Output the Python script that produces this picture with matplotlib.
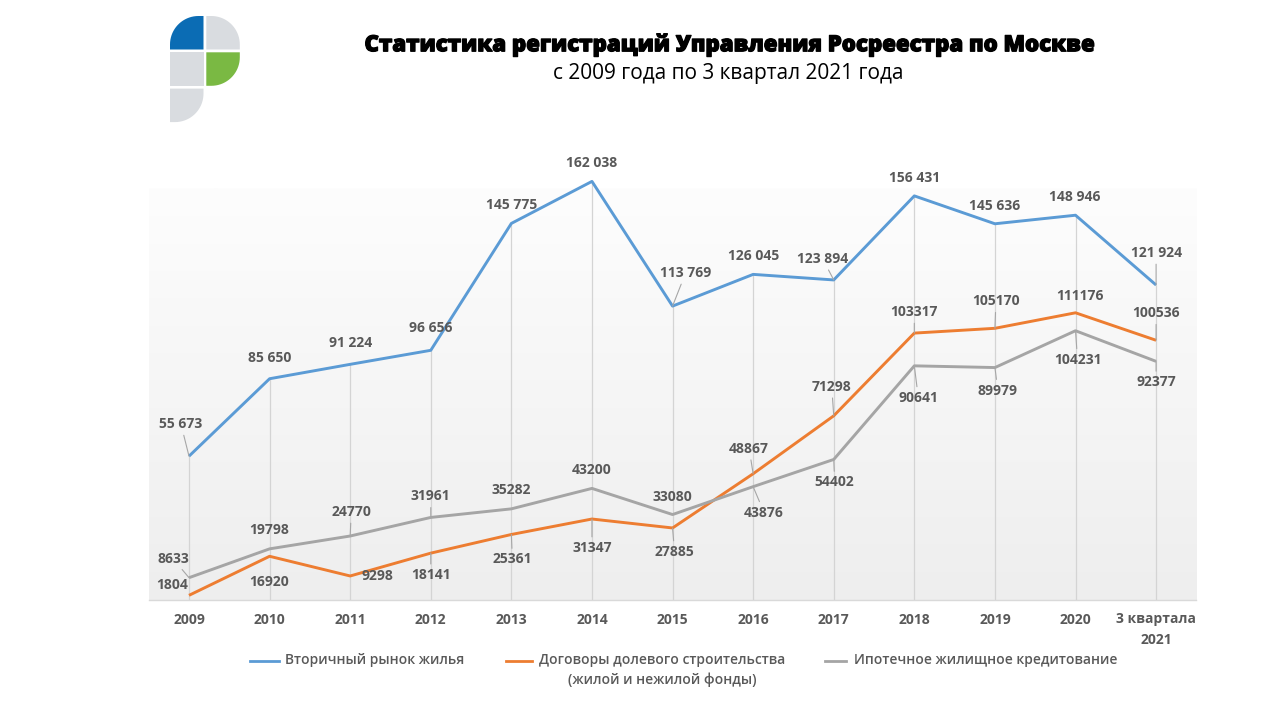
import numpy as np
import matplotlib
matplotlib.use("Agg")
import matplotlib.pyplot as plt
import matplotlib.patheffects as pe
from matplotlib.lines import Line2D
from matplotlib.patches import Polygon

# ---------------- data ----------------
categories = ["2009", "2010", "2011", "2012", "2013", "2014", "2015", "2016",
              "2017", "2018", "2019", "2020", "3 квартала\n2021"]
secondary = [55673, 85650, 91224, 96656, 145775, 162038, 113769, 126045,
             123894, 156431, 145636, 148946, 121924]
shared = [1804, 16920, 9298, 18141, 25361, 31347, 27885, 48867,
          71298, 103317, 105170, 111176, 100536]
mortgage = [8633, 19798, 24770, 31961, 35282, 43200, 33080, 43876,
            54402, 90641, 89979, 104231, 92377]
series_names = ["Вторичный рынок жилья",
                "Договоры долевого строительства\n(жилой и нежилой фонды)",
                "Ипотечное жилищное кредитование"]
title = "Статистика регистраций Управления Росреестра по Москве"
subtitle = "с 2009 года по 3 квартал 2021 года"

# ---------------- style / layout ----------------
colors = ["#5b9bd5", "#ed7d31", "#a5a5a5"]
label_color = "#595959"
# label offsets in pixels (dx, dy) and leader-line flags
off_sec = [(-8, 32), (0, 21), (0, 21), (0, 22), (0, 18), (0, 18), (13, 33),
           (0, 18), (-11, 21), (0, 18), (0, 18), (-1, 18), (0, 32)]
lead_sec = [1, 0, 0, 0, 0, 0, 1, 0, 1, 0, 0, 0, 1]
off_sh = [(-17, 10), (0, -26), (27, 0), (0, -22), (1, -25), (0, -29), (2, -24),
          (-4, 25), (-2, 29), (0, 21), (1, 27), (4, 17), (0, 27)]
lead_sh = [0, 0, 0, 1, 1, 1, 1, 1, 1, 1, 1, 0, 1]
off_mo = [(-16, 19), (0, 19), (1, 24), (0, 21), (0, 19), (0, 18), (0, 18),
          (11, -26), (1, -23), (4, -32), (3, -23), (2, -29), (0, -21)]
lead_mo = [1, 0, 1, 1, 0, 0, 0, 1, 1, 1, 1, 1, 1]

W, H = 1280, 720
fig = plt.figure(figsize=(W / 100, H / 100), dpi=100)
fig.patch.set_facecolor("white")

FONT = ["Open Sans", "DejaVu Sans"]
plt.rcParams["font.family"] = FONT

# axes placement in pixels
ax_l, ax_r, ax_b, ax_t = 148.7, 1196.4, 600, 135
ax = fig.add_axes([ax_l / W, 1 - ax_b / H, (ax_r - ax_l) / W, (ax_b - ax_t) / H])
n = len(categories)
x = np.arange(n)
ax.set_xlim(-0.5, n - 0.5)
ax.set_ylim(0, 180000)

# gradient background of plot area
grad = np.linspace(0, 1, 256).reshape(-1, 1)
top_c = np.array([0xfd, 0xfd, 0xfd]) / 255
bot_c = np.array([0xee, 0xee, 0xee]) / 255
img = top_c * (1 - grad[..., None]) + bot_c * grad[..., None]
img = img.reshape(256, 1, 3)
ax.imshow(img, extent=(-0.5, n - 0.5, 0, 159400), aspect="auto", zorder=0,
          origin="upper")

# drop lines
ax.vlines(x, 0, secondary, color="#d4d4d4", lw=0.9, zorder=1)

for vals, c in zip([secondary, shared, mortgage], colors):
    ax.plot(x, vals, color=c, lw=2.1, zorder=3, solid_joinstyle="round",
            solid_capstyle="butt")

def fmt_space(v):
    return f"{v:,}".replace(",", " ")

def add_labels(vals, offs, leads, fmt):
    for i, v in enumerate(vals):
        kw = {}
        if leads[i]:
            kw["arrowprops"] = dict(arrowstyle="-", color="#a6a6a6", lw=0.8,
                                    shrinkA=1, shrinkB=0)
        ax.annotate(fmt(v), xy=(i, v), xytext=offs[i], textcoords="offset pixels",
                    ha="center", va="center", fontsize=10, fontweight="bold",
                    color=label_color, zorder=5, **kw)

add_labels(secondary, off_sec, lead_sec, fmt_space)
add_labels(shared, off_sh, lead_sh, str)
add_labels(mortgage, off_mo, lead_mo, str)

for s in ["top", "left", "right"]:
    ax.spines[s].set_visible(False)
ax.spines["bottom"].set_color("#d9d9d9")
ax.spines["bottom"].set_linewidth(1)
ax.set_yticks([])
ax.set_xticks(x)
ax.set_xticklabels(categories, fontsize=10, fontweight="bold", color=label_color,
                   linespacing=1.55)
ax.tick_params(axis="x", length=0, pad=9)

# title
fig.text(730 / W, 1 - 45 / H, title, ha="center", va="center", fontsize=16,
         fontweight="heavy", color="black",
         path_effects=[pe.withStroke(linewidth=0.9, foreground="black")])
fig.text(728 / W, 1 - 73 / H, subtitle, ha="center", va="center", fontsize=15,
         color="black")

# legend (manual)
leg_y = 661
leg_items = [(250, 279, 285), (506, 532, 539), (825, 846, 854)]
for (x0, x1, tx), c, name in zip(leg_items, colors, series_names):
    fig.add_artist(Line2D([x0 / W, x1 / W], [1 - leg_y / H] * 2, color=c, lw=2,
                          transform=fig.transFigure))
    fig.text(tx / W, 1 - (leg_y - 8) / H, name, ha="left", va="top",
             fontsize=10, fontweight="semibold", color=label_color,
             multialignment="center", linespacing=1.45)

# logo
lax = fig.add_axes([170 / W, 1 - 123 / H, 70 / W, 107 / H])
lax.set_xlim(0, 70)
lax.set_ylim(107, 0)
lax.axis("off")

def rounded_square(x0, y0, s, corner, r):
    # corner: 'tl','tr','br','bl'; y axis points down
    pts = []
    t = np.linspace(0, np.pi / 2, 20)
    corners = {"tl": (x0, y0), "tr": (x0 + s, y0), "br": (x0 + s, y0 + s), "bl": (x0, y0 + s)}
    order = ["tl", "tr", "br", "bl"]
    for k in order:
        cx, cy = corners[k]
        if k == corner:
            if k == "tl":
                cc = (x0 + r, y0 + r)
                ang = np.pi + t
            elif k == "tr":
                cc = (x0 + s - r, y0 + r)
                ang = 1.5 * np.pi + t
            elif k == "br":
                cc = (x0 + s - r, y0 + s - r)
                ang = t
            else:
                cc = (x0 + r, y0 + s - r)
                ang = 0.5 * np.pi + t
            pts += list(zip(cc[0] + r * np.cos(ang), cc[1] + r * np.sin(ang)))
        else:
            pts.append((cx, cy))
    return pts

s, g = 33.5, 2.8
blue_l, green_l, gray_l = "#0b6cb4", "#7ab943", "#d9dce0"
cells = [(0, 0, "tl", blue_l), (s + g, 0, "tr", gray_l), (0, s + g, None, gray_l),
         (s + g, s + g, "br", green_l), (0, 2 * (s + g), "br", gray_l)]
for cx, cy, cor, col in cells:
    pts = rounded_square(cx, cy, s, cor, 0.85 * s)
    lax.add_patch(Polygon(pts, closed=True, facecolor=col, edgecolor="none"))

fig.savefig("out.png", dpi=100, facecolor="white")
